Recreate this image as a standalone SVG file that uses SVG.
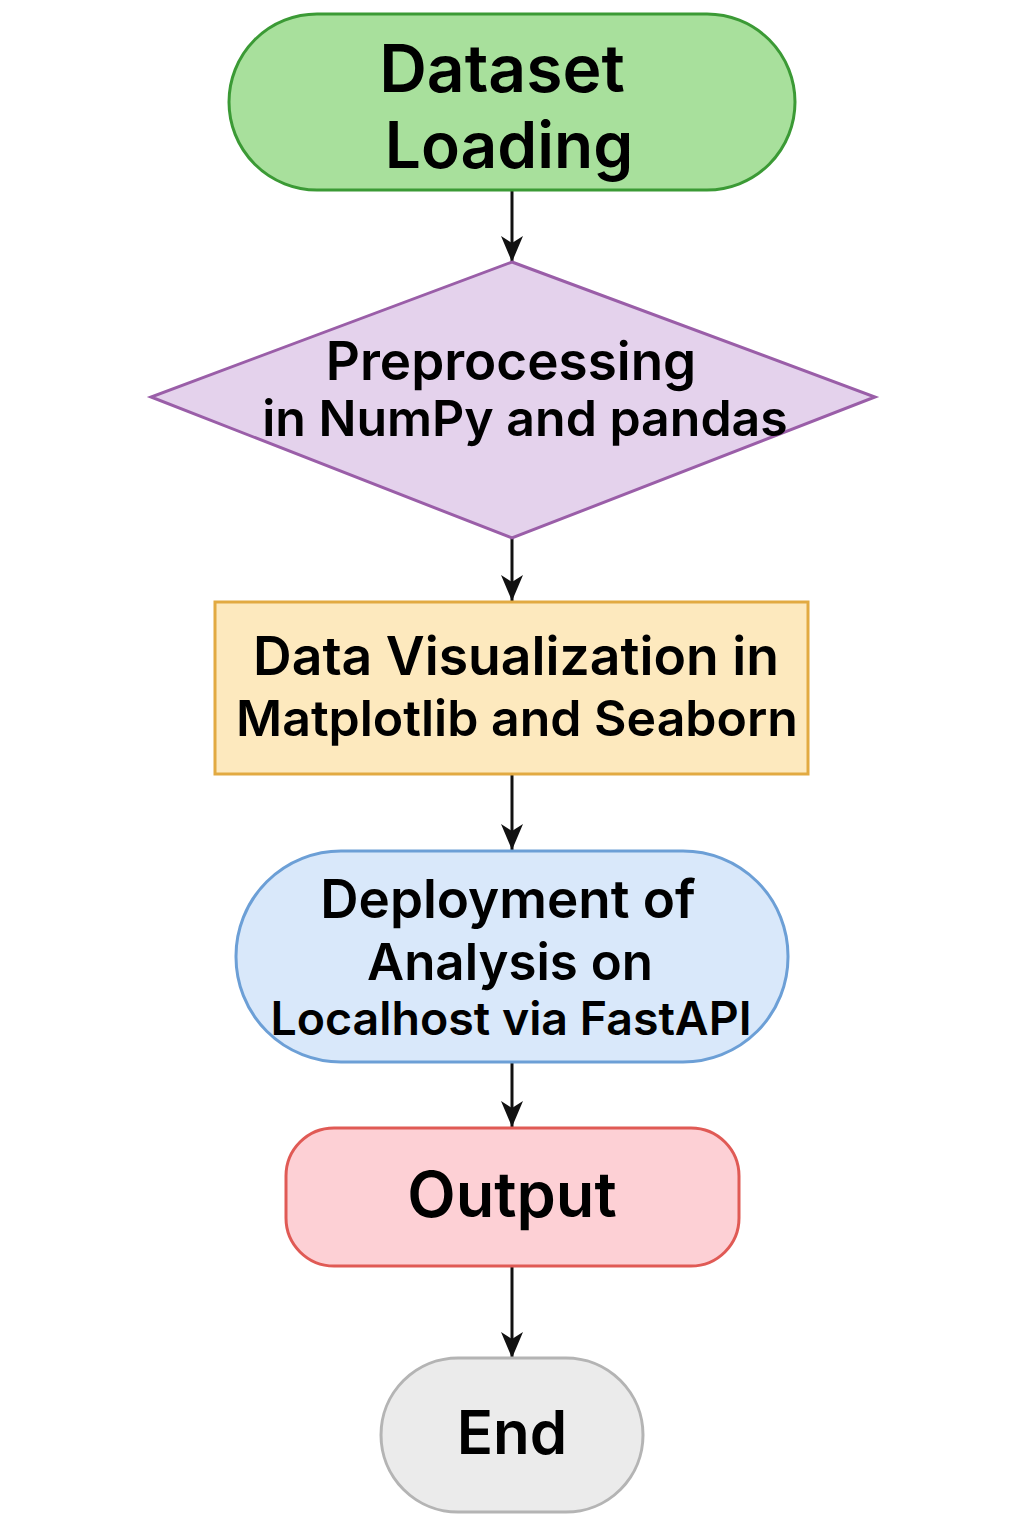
<svg xmlns="http://www.w3.org/2000/svg" width="1024" height="1536" viewBox="0 0 1024 1536">
<defs>
<marker id="ah" viewBox="0 0 26 22" refX="26" refY="11" markerWidth="26" markerHeight="22" markerUnits="userSpaceOnUse" orient="auto">
<path d="M0,0 L26,11 L0,22 L7,11 Z" fill="#111"/>
</marker>
<style>
text{font-family:Inter,"Noto Sans","Liberation Sans",sans-serif;font-weight:600;fill:#000;text-anchor:middle}
.c{stroke:#111;stroke-width:3;fill:none}
.s{stroke-width:3}
</style>
</defs>
<rect width="1024" height="1536" fill="#fff"/>
<g id="connectors">
<line class="c" x1="512" y1="191" x2="512" y2="262" marker-end="url(#ah)"/>
<line class="c" x1="512" y1="538" x2="512" y2="601" marker-end="url(#ah)"/>
<line class="c" x1="512" y1="774" x2="512" y2="850" marker-end="url(#ah)"/>
<line class="c" x1="512" y1="1062" x2="512" y2="1127" marker-end="url(#ah)"/>
<line class="c" x1="512" y1="1266" x2="512" y2="1358" marker-end="url(#ah)"/>
</g>
<g id="n1">
<rect class="s" x="229" y="14" width="566" height="176" rx="88" fill="#a8e09c" stroke="#3b9a35"/>
<text x="502" y="92" font-size="66">Dataset</text>
<text x="509" y="168" font-size="64">Loading</text>
</g>
<g id="n2">
<polygon class="s" points="512,262 875,397 512,538 151,397" fill="#e4d2ec" stroke="#9a5ea8"/>
<text x="511" y="380" font-size="53">Preprocessing</text>
<text x="525" y="436" font-size="50">in NumPy and pandas</text>
</g>
<g id="n3">
<rect class="s" x="215" y="602" width="593" height="172" fill="#fde9be" stroke="#e2aa42"/>
<text x="516" y="675" font-size="53.5">Data Visualization in</text>
<text x="517" y="736" font-size="50">Matplotlib and Seaborn</text>
</g>
<g id="n4">
<rect class="s" x="236" y="851" width="552" height="211" rx="105" fill="#d9e8fa" stroke="#6c9fd6"/>
<text x="508" y="918" font-size="53">Deployment of</text>
<text x="510" y="980" font-size="51">Analysis on</text>
<text x="511" y="1035" font-size="46.5">Localhost via FastAPI</text>
</g>
<g id="n5">
<rect class="s" x="286" y="1128" width="453" height="138" rx="48" fill="#fdd0d5" stroke="#e05a55"/>
<text x="512" y="1217" font-size="63">Output</text>
</g>
<g id="n6">
<rect class="s" x="381" y="1358" width="262" height="154" rx="77" fill="#ebebeb" stroke="#b4b4b4"/>
<text x="512" y="1454" font-size="60">End</text>
</g>
</svg>
